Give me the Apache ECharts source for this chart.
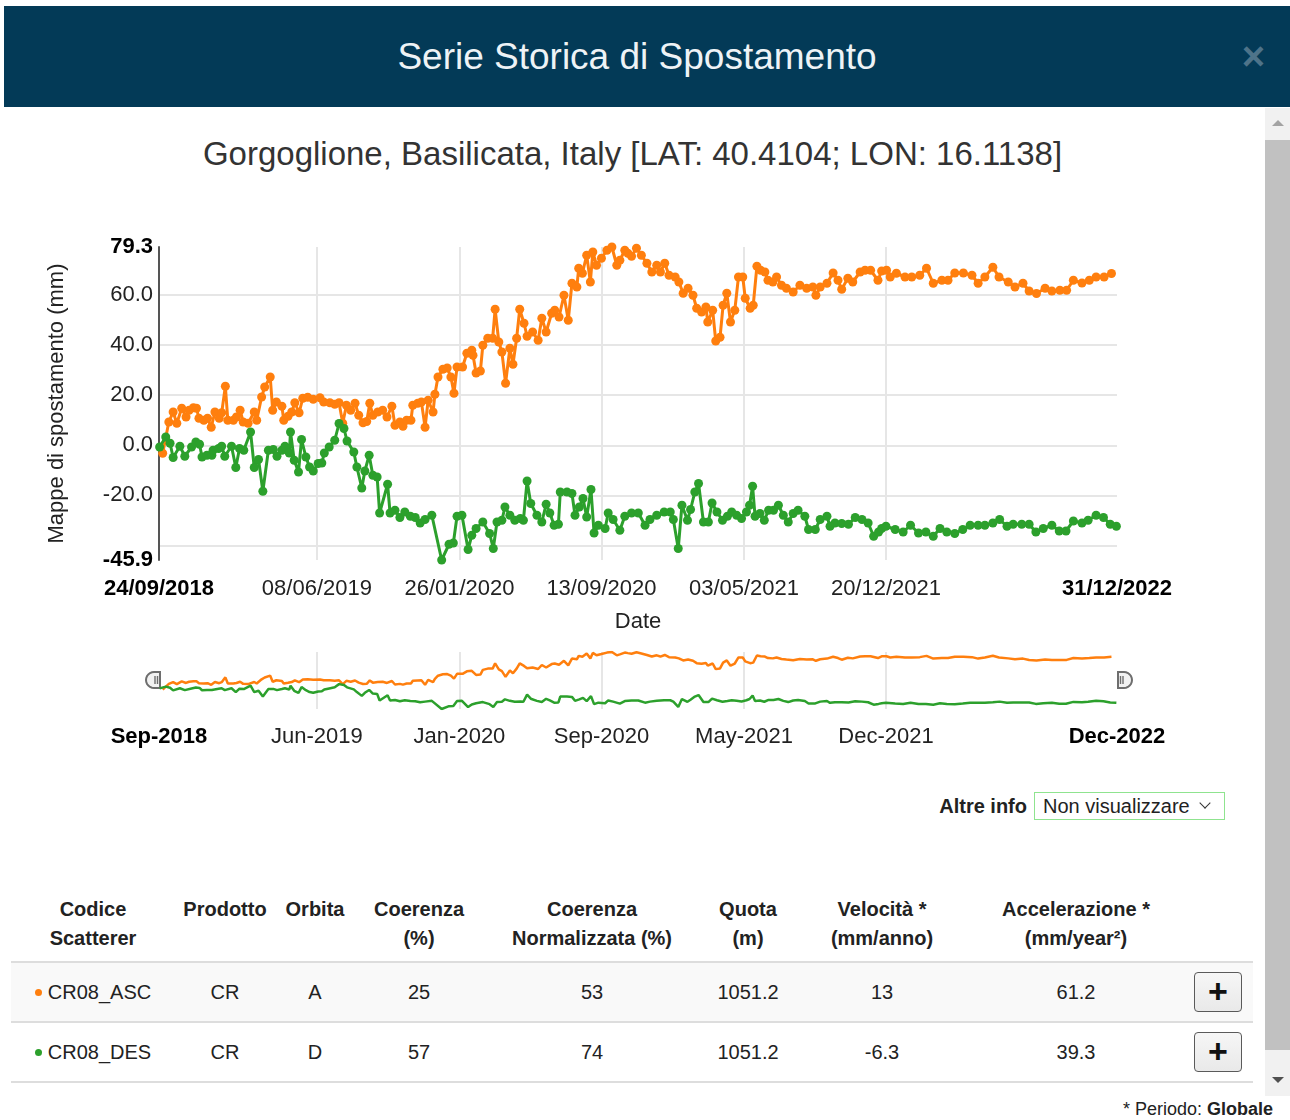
<!DOCTYPE html>
<html>
<head>
<meta charset="utf-8">
<title>Serie Storica di Spostamento</title>
<script src="https://cdn.jsdelivr.net/npm/echarts@6/dist/echarts.min.js"></script>
<style>
  body {
    margin: 0;
    width: 1290px;
    height: 1120px;
    position: relative;
    overflow: hidden;
    background: #fff;
    color: #222;
    font-family: "Liberation Sans", Arial, Helvetica, sans-serif;
  }
  .modal-header {
    position: absolute;
    left: 4px;
    top: 6px;
    width: 1286px;
    height: 101px;
    background: #033a57;
  }
  .modal-header h4 {
    margin: 0;
    padding-right: 20px;
    text-align: center;
    line-height: 101px;
    font-size: 37px;
    font-weight: normal;
    color: #eef3f6;
  }
  .modal-header .close {
    position: absolute;
    right: 25px;
    top: 30px;
    font-size: 40px;
    line-height: 40px;
    font-weight: bold;
    color: #4e7389;
  }
  .scrollbar {
    position: absolute;
    left: 1265px;
    top: 108px;
    width: 25px;
    height: 988px;
    background: #f1f1f1;
  }
  .scrollbar .thumb {
    position: absolute;
    left: 0;
    top: 32px;
    width: 25px;
    height: 910px;
    background: #c1c1c1;
  }
  .scrollbar .up, .scrollbar .down {
    position: absolute;
    left: 7px;
    width: 0;
    height: 0;
    border-left: 6px solid transparent;
    border-right: 6px solid transparent;
  }
  .scrollbar .up { top: 12px; border-bottom: 6px solid #a3a3a3; }
  .scrollbar .down { top: 969px; border-top: 6px solid #505050; }
  .subtitle {
    position: absolute;
    left: 0;
    top: 134px;
    width: 1265px;
    text-align: center;
    font-size: 33px;
    line-height: 40px;
    color: #333;
  }
  #chart {
    position: absolute;
    left: 0;
    top: 200px;
    width: 1265px;
    height: 560px;
  }
  .altre {
    position: absolute;
    left: 900px;
    top: 792px;
    width: 325px;
    height: 30px;
    text-align: right;
    font-size: 20px;
  }
  .altre b { position: absolute; right: 198px; top: 3px; }
  .altre .select {
    position: absolute;
    right: 0;
    top: 0;
    width: 189px;
    height: 26px;
    border: 1px solid #8fe48f;
    text-align: left;
  }
  .altre .select span { position: absolute; left: 8px; top: 2px; }
  .altre .select i {
    position: absolute;
    right: 15px;
    top: 6px;
    width: 7px;
    height: 7px;
    border-right: 1.5px solid #333;
    border-bottom: 1.5px solid #333;
    transform: rotate(45deg);
  }
  table {
    position: absolute;
    left: 11px;
    top: 890px;
    width: 1242px;
    table-layout: fixed;
    border-collapse: separate;
    border-spacing: 0;
    font-size: 20px;
  }
  th {
    padding: 5px 0 8px;
    line-height: 29px;
    font-weight: bold;
    vertical-align: top;
    text-align: center;
    border-bottom: 2px solid #ddd;
  }
  td {
    height: 58px;
    padding: 0;
    text-align: center;
    vertical-align: middle;
    border-bottom: 2px solid #ddd;
  }
  tr.odd td { background: #f9f9f9; }
  .dot {
    display: inline-block;
    width: 7px;
    height: 7px;
    border-radius: 50%;
    margin-right: 6px;
    vertical-align: 3px;
  }
  .btn {
    display: inline-block;
    box-sizing: border-box;
    width: 48px;
    height: 40px;
    border: 1px solid #5a5a5a;
    border-radius: 4px;
    background: linear-gradient(#f6f6f6, #e9e9e9);
    font-size: 34px;
    font-weight: bold;
    line-height: 36px;
    color: #111;
  }
  .periodo {
    position: absolute;
    right: 17px;
    top: 1098px;
    font-size: 18px;
    line-height: 22px;
  }
</style>
</head>
<body>
<div class="modal-header">
  <h4>Serie Storica di Spostamento</h4>
  <span class="close">&times;</span>
</div>
<div class="scrollbar"><div class="up"></div><div class="thumb"></div><div class="down"></div></div>

<div class="subtitle">Gorgoglione, Basilicata, Italy [LAT: 40.4104; LON: 16.1138]</div>
<div id="chart"></div>

<div class="altre"><b>Altre info</b><div class="select"><span>Non visualizzare</span><i></i></div></div>

<table>
  <colgroup>
    <col style="width:164px"><col style="width:100px"><col style="width:80px">
    <col style="width:128px"><col style="width:218px"><col style="width:94px">
    <col style="width:174px"><col style="width:214px"><col style="width:70px">
  </colgroup>
  <thead>
    <tr>
      <th>Codice<br>Scatterer</th><th>Prodotto</th><th>Orbita</th>
      <th>Coerenza<br>(%)</th><th>Coerenza<br>Normalizzata (%)</th><th>Quota<br>(m)</th>
      <th>Velocità *<br>(mm/anno)</th><th>Accelerazione *<br>(mm/year²)</th><th></th>
    </tr>
  </thead>
  <tbody>
    <tr class="odd">
      <td><span class="dot" style="background:#ff7f0e"></span>CR08_ASC</td><td>CR</td><td>A</td>
      <td>25</td><td>53</td><td>1051.2</td><td>13</td><td>61.2</td>
      <td><span class="btn">+</span></td>
    </tr>
    <tr>
      <td><span class="dot" style="background:#2ca02c"></span>CR08_DES</td><td>CR</td><td>D</td>
      <td>57</td><td>74</td><td>1051.2</td><td>-6.3</td><td>39.3</td>
      <td><span class="btn">+</span></td>
    </tr>
  </tbody>
</table>
<div class="periodo">* Periodo: <b>Globale</b></div>

<script>
const FONT = '"Liberation Sans", Arial, Helvetica, sans-serif';
const DAY = 86400000;

// time range and tick dates
const startDate = '2018-09-24';
const endDate = '2022-12-31';
const tickDates = ['2018-09-24', '2019-06-08', '2020-01-26', '2020-09-13', '2021-05-03', '2021-12-20', '2022-12-31'];
const monthNames = ['Jan', 'Feb', 'Mar', 'Apr', 'May', 'Jun', 'Jul', 'Aug', 'Sep', 'Oct', 'Nov', 'Dec'];

// y axis (mm)
const yMin = -45.9;
const yMax = 79.3;
const yLabelValues = [-45.9, -20, 0, 20, 40, 60, 79.3];
const yGridValues = [-45.9, -40, -20, 0, 20, 40, 60, 79.3];

// CR08_ASC: days since 24/09/2018, displacement (mm)
const ascDays = [
  6, 16, 23, 29, 37, 44, 49, 56, 61, 65,
  73, 79, 85, 91, 98, 102, 108, 112, 121, 126,
  132, 137, 145, 155, 159, 167, 172, 181, 185, 191,
  200, 203, 210, 216, 221, 228, 234, 242, 251, 262,
  268, 278, 286, 293, 299, 305, 312, 319, 325, 332,
  338, 343, 348, 356, 364, 371, 379, 384, 392, 397,
  403, 410, 413, 421, 427, 433, 438, 446, 449, 454,
  462, 469, 475, 480, 485, 494, 501, 509, 511, 516,
  523, 527, 535, 543, 547, 553, 558, 564, 571, 576,
  582, 587, 594, 599, 608, 617, 623, 630, 639, 644,
  651, 659, 666, 672, 680, 683, 689, 696, 702, 706,
  712, 720, 729, 737, 745, 750, 758, 763, 769, 777,
  785, 794, 802, 810, 816, 823, 830, 840, 846, 853,
  861, 869, 875, 883, 890, 893, 901, 906, 913, 918,
  924, 930, 937, 943, 950, 954, 962, 967, 973, 979,
  986, 991, 999, 1005, 1013, 1021, 1032, 1043, 1054, 1064,
  1069, 1076, 1087, 1097, 1105, 1111, 1121, 1129, 1141, 1149,
  1158, 1170, 1176, 1184, 1190, 1200, 1214, 1225, 1238, 1249,
  1260, 1274, 1284, 1295, 1309, 1323, 1333, 1344, 1357, 1367,
  1382, 1393, 1406, 1416, 1428, 1442, 1453, 1466, 1477, 1488,
  1502, 1514, 1525, 1538, 1550
];
const ascValues = [
  -3.2, 9.3, 13.3, 8.8, 14.8, 11.3, 14, 15, 14.8, 10.8,
  10, 10.8, 7.2, 13.3, 10.8, 13, 23.6, 10, 10, 11.3,
  14, 9.3, 8.8, 13.3, 10, 19.3, 23.3, 27.3, 14, 17.3,
  15.6, 10, 11.6, 13.3, 17, 13, 18.8, 19.2, 18.4, 19,
  17.3, 17, 16.4, 17, 8.8, 16, 14, 16.8, 12, 9,
  9.5, 16.8, 12, 13.3, 14, 11.3, 15.6, 8, 9.3, 7.6,
  10, 10, 16, 16.8, 17.3, 7.2, 18, 13.3, 20.4, 27.3,
  30.4, 30.9, 27.3, 20.8, 31.3, 31.3, 36.8, 38, 36, 28.9,
  29.7, 40, 42.8, 42.8, 54.4, 41.3, 37.3, 24.8, 38.8, 32.4,
  42.8, 54.4, 48.8, 43.6, 45.3, 42, 50.8, 45.3, 52.8, 54,
  51.3, 60, 50, 64.8, 63.3, 70.8, 68.8, 76, 65.3, 77.3,
  72, 74.8, 78, 79.3, 72, 74, 78, 76.8, 75.6, 78.8,
  76, 72.8, 69.3, 72, 69.3, 72.8, 68, 67.3, 65.3, 60.8,
  62.8, 60, 54.8, 53.3, 55.3, 49.3, 54, 41.7, 43.2, 56,
  60.8, 49.3, 54, 67.3, 67.3, 58.8, 54.8, 56, 71.6, 70,
  69.3, 66, 65.3, 67.3, 64, 62.8, 61.3, 64, 62.8, 63.3,
  60, 63.3, 64.8, 68.9, 66, 62.4, 66.8, 65.3, 69.3, 70,
  70, 66, 69.7, 70, 67.3, 68.8, 67.3, 67.3, 68, 70.8,
  64.8, 66, 66, 68.9, 68.9, 68, 64.8, 67.3, 71.2, 67.3,
  65.3, 63.3, 64.8, 61.7, 60.7, 62.8, 61.7, 62, 62, 66,
  64.9, 66, 67.3, 67.3, 68.7
];

// CR08_DES: days since 24/09/2018, displacement (mm)
const desDays = [
  1, 11, 18, 23, 34, 42, 53, 60, 66, 70,
  78, 86, 88, 97, 102, 107, 118, 125, 131, 138,
  149, 155, 162, 169, 178, 186, 192, 200, 205, 212,
  214, 220, 227, 232, 239, 245, 251, 259, 265, 269,
  277, 286, 293, 301, 306, 317, 322, 330, 335, 342,
  348, 355, 359, 372, 376, 384, 392, 400, 409, 417,
  425, 433, 444, 460, 472, 479, 485, 493, 503, 509,
  516, 527, 538, 544, 550, 558, 563, 571, 579, 588,
  593, 599, 605, 615, 623, 630, 636, 643, 650, 653,
  664, 672, 677, 684, 690, 696, 703, 708, 715, 726,
  731, 739, 750, 758, 769, 780, 791, 799, 810, 822,
  832, 837, 845, 851, 860, 865, 872, 878, 886, 894,
  900, 908, 917, 925, 932, 940, 948, 956, 961, 966,
  970, 978, 985, 992, 1000, 1008, 1016, 1024, 1032, 1040,
  1051, 1057, 1068, 1076, 1087, 1092, 1100, 1111, 1122, 1133,
  1144, 1154, 1163, 1171, 1176, 1183, 1198, 1211, 1223, 1236,
  1248, 1260, 1271, 1282, 1295, 1308, 1320, 1333, 1344, 1357,
  1368, 1380, 1390, 1404, 1416, 1427, 1439, 1453, 1465, 1476,
  1488, 1502, 1512, 1525, 1537, 1548, 1558
];
const desValues = [
  -0.7, 3.3, 0.8, -4.9, -0.4, -4.4, -0.7, 1.3, 0.4, -4.7,
  -4, -4, -2, -1.3, -0.4, -4.4, -0.4, -8.9, -1.3, -2,
  5.3, -8.9, -5.7, -18.4, -2, -1.7, -4.4, -2, -0.4, -3.1,
  5.3, -6, -10.7, 2.3, -4.7, -8.7, -10.3, -7.3, -7.1, -3.1,
  -0.7, 2, 8.7, 6.7, 1.7, -2.7, -8.7, -17.1, -10.3, -4,
  -12, -12.7, -27.1, -15.6, -27.1, -26, -28.9, -26.7, -28.4, -28.9,
  -31.1, -29.7, -28, -45.9, -39.6, -39.1, -28.4, -28, -41.7, -36,
  -33.3, -30.7, -35.3, -41.3, -30.7, -30, -24.7, -28, -30, -29.3,
  -30, -14.3, -23.3, -28, -30.7, -23.6, -27.1, -32, -31.6, -18.7,
  -18.7, -19.3, -28, -24.7, -21.3, -28.7, -17.7, -35.1, -32, -33.3,
  -27.1, -29.7, -34, -28.4, -27.1, -27.1, -32, -29.7, -28, -26.7,
  -26.7, -29.7, -41.3, -24, -30, -25.7, -18.7, -15.3, -30.7, -30.7,
  -23.1, -26.7, -30, -28.4, -26.7, -28, -29.3, -26.7, -24, -16.4,
  -28.4, -27.3, -30, -26, -26, -24, -28, -30.7, -27.3, -26,
  -28.4, -33.7, -33.7, -29.7, -28.4, -32.4, -31.1, -31.3, -31.6, -28.9,
  -29.7, -31.1, -36.4, -34.7, -33.3, -32.4, -33.7, -34.7, -32, -35.1,
  -34.7, -36.4, -33.3, -34.7, -35.3, -33.7, -32, -32, -32, -31.1,
  -29.7, -32.4, -31.6, -31.6, -31.6, -34.7, -33.3, -32, -34.3, -34.3,
  -30.3, -31.1, -30, -28, -28.9, -31.6, -32.4
];

function utc(s) {
  var p = s.split('-');
  return Date.UTC(+p[0], +p[1] - 1, +p[2]);
}
function pad(n) {
  return (n < 10 ? '0' : '') + n;
}

var t0 = utc(startDate);
var t1 = utc(endDate);
var tickValues = tickDates.map(utc);
var ascData = ascDays.map((d, i) => [t0 + d * DAY, ascValues[i]]);
var desData = desDays.map((d, i) => [t0 + d * DAY, desValues[i]]);

function isEndDate(v) {
  return Math.abs(v - t0) < DAY / 2 || Math.abs(v - t1) < DAY / 2;
}
function fmtDay(v) {
  var d = new Date(v);
  var s = pad(d.getUTCDate()) + '/' + pad(d.getUTCMonth() + 1) + '/' + d.getUTCFullYear();
  return isEndDate(v) ? '{b|' + s + '}' : s;
}
function fmtMonth(v) {
  var d = new Date(v);
  var s = monthNames[d.getUTCMonth()] + '-' + d.getUTCFullYear();
  return isEndDate(v) ? '{b|' + s + '}' : s;
}
function fmtMm(v) {
  var s = v.toFixed(1);
  return Math.abs(v - yMin) < 1e-6 || Math.abs(v - yMax) < 1e-6 ? '{b|' + s + '}' : s;
}

var boldRich = { b: { fontWeight: 'bold', fontSize: 22, color: '#000', fontFamily: FONT } };
var gridLine = { show: true, showMinLine: false, showMaxLine: false, lineStyle: { color: '#e6e6e6', width: 2 } };

var chartDom = document.getElementById('chart');
var myChart = echarts.init(chartDom);

// half-disc handle of the range slider under the chart
function handle(left, flip) {
  var pts = [];
  for (var k = 0; k <= 12; k++) {
    var a = Math.PI / 2 + (Math.PI * k) / 12;
    var x = 8 * Math.cos(a);
    pts.push([flip ? 6 - x : 8 + x, 8 - 8 * Math.sin(a)]);
  }
  var outline = flip ? [[0, 16], [0, 0]].concat(pts) : [[14, 16], [14, 0]].concat(pts);
  var xs = flip ? [2.5, 5] : [9, 11.5];
  return {
    type: 'group',
    left: left,
    top: 471,
    children: [
      { type: 'polygon', shape: { points: outline },
        style: { fill: '#f2f2f2', stroke: '#6e6e6e', lineWidth: 2 } },
      { type: 'line', shape: { x1: xs[0], y1: 4, x2: xs[0], y2: 12 }, style: { stroke: '#6e6e6e', lineWidth: 1.4 } },
      { type: 'line', shape: { x1: xs[1], y1: 4, x2: xs[1], y2: 12 }, style: { stroke: '#6e6e6e', lineWidth: 1.4 } }
    ]
  };
}

var option = {
  animation: false,
  textStyle: { fontFamily: FONT },
  tooltip: { trigger: 'axis' },
  grid: [
    { left: 159, top: 47, width: 958, height: 313 },
    { left: 159, top: 452, width: 958, height: 57 }
  ],
  xAxis: [
    {
      type: 'value',
      gridIndex: 0,
      min: t0,
      max: t1,
      name: 'Date',
      nameLocation: 'middle',
      nameGap: 51,
      nameTextStyle: { fontSize: 22, color: '#222', fontFamily: FONT },
      axisLine: { show: false },
      axisTick: { show: false, customValues: tickValues },
      splitLine: gridLine,
      axisLabel: {
        customValues: tickValues,
        formatter: fmtDay,
        margin: 18,
        fontSize: 22,
        color: '#222',
        fontFamily: FONT,
        showMinLabel: true,
        showMaxLabel: true,
        rich: boldRich
      }
    },
    {
      type: 'value',
      gridIndex: 1,
      min: t0,
      max: t1,
      axisLine: { show: false },
      axisTick: { show: false, customValues: tickValues },
      splitLine: gridLine,
      axisLabel: {
        customValues: tickValues,
        formatter: fmtMonth,
        margin: 17,
        fontSize: 22,
        color: '#222',
        fontFamily: FONT,
        showMinLabel: true,
        showMaxLabel: true,
        rich: boldRich
      }
    }
  ],
  yAxis: [
    {
      type: 'value',
      gridIndex: 0,
      min: yMin,
      max: yMax,
      name: 'Mappe di spostamento (mm)',
      nameLocation: 'middle',
      nameGap: 91,
      nameTextStyle: { fontSize: 22, color: '#222', fontFamily: FONT },
      axisLine: { show: true, lineStyle: { color: '#555', width: 2 } },
      axisTick: { show: false, customValues: yGridValues },
      splitLine: gridLine,
      axisLabel: {
        customValues: yLabelValues,
        formatter: fmtMm,
        margin: 6,
        fontSize: 22,
        color: '#222',
        fontFamily: FONT,
        showMinLabel: true,
        showMaxLabel: true,
        rich: boldRich
      }
    },
    {
      type: 'value',
      gridIndex: 1,
      min: yMin,
      max: yMax,
      show: false,
      splitLine: { show: false }
    }
  ],
  graphic: [handle(145, false), handle(1117, true)],
  series: [
    {
      name: 'CR08_ASC',
      type: 'line',
      xAxisIndex: 0,
      yAxisIndex: 0,
      data: ascData,
      symbol: 'circle',
      symbolSize: 9,
      showAllSymbol: true,
      itemStyle: { color: '#ff7f0e' },
      lineStyle: { color: '#ff7f0e', width: 3 }
    },
    {
      name: 'CR08_DES',
      type: 'line',
      xAxisIndex: 0,
      yAxisIndex: 0,
      data: desData,
      symbol: 'circle',
      symbolSize: 9,
      showAllSymbol: true,
      itemStyle: { color: '#2ca02c' },
      lineStyle: { color: '#2ca02c', width: 3 }
    },
    {
      name: 'CR08_ASC',
      type: 'line',
      xAxisIndex: 1,
      yAxisIndex: 1,
      data: ascData,
      showSymbol: false,
      silent: true,
      itemStyle: { color: '#ff7f0e' },
      lineStyle: { color: '#ff7f0e', width: 2.5 }
    },
    {
      name: 'CR08_DES',
      type: 'line',
      xAxisIndex: 1,
      yAxisIndex: 1,
      data: desData,
      showSymbol: false,
      silent: true,
      itemStyle: { color: '#2ca02c' },
      lineStyle: { color: '#2ca02c', width: 2.5 }
    }
  ]
};

myChart.setOption(option);
</script>
</body>
</html>
